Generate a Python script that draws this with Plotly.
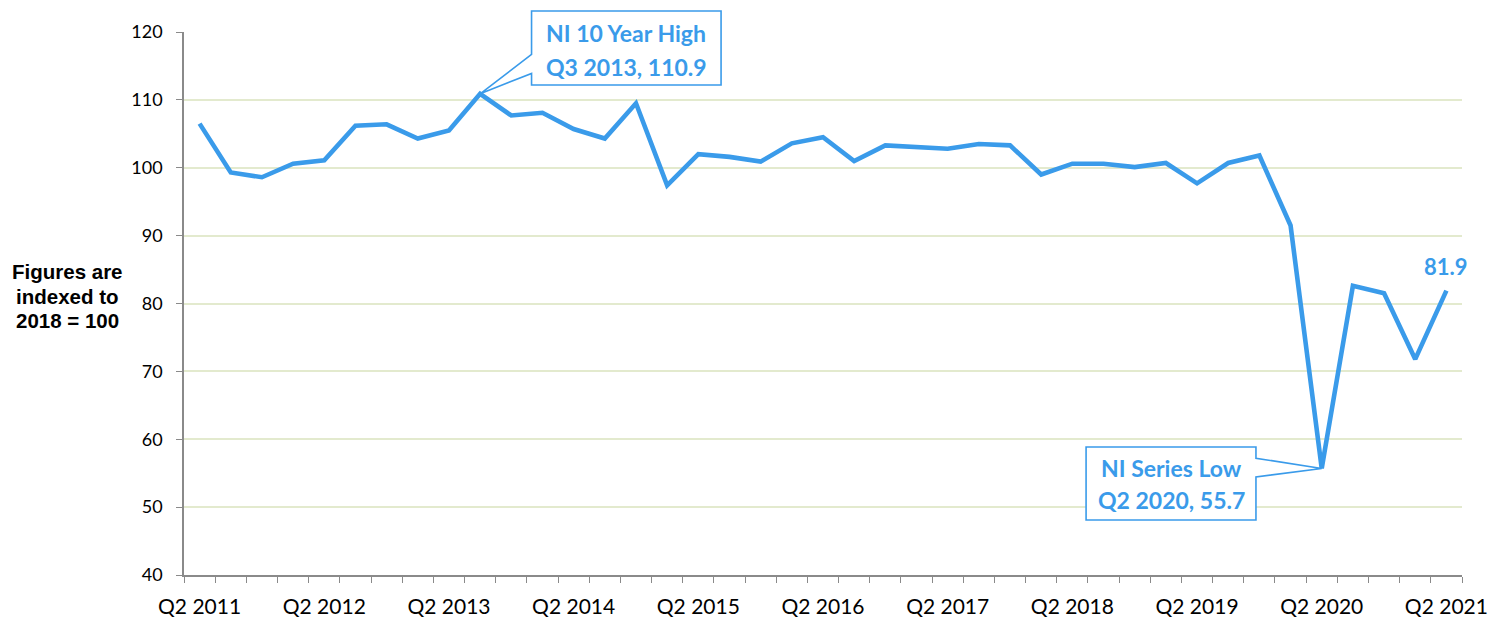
import plotly.graph_objects as go

# ---------------- data ----------------
quarters = [
    "Q2 2011", "Q3 2011", "Q4 2011", "Q1 2012",
    "Q2 2012", "Q3 2012", "Q4 2012", "Q1 2013",
    "Q2 2013", "Q3 2013", "Q4 2013", "Q1 2014",
    "Q2 2014", "Q3 2014", "Q4 2014", "Q1 2015",
    "Q2 2015", "Q3 2015", "Q4 2015", "Q1 2016",
    "Q2 2016", "Q3 2016", "Q4 2016", "Q1 2017",
    "Q2 2017", "Q3 2017", "Q4 2017", "Q1 2018",
    "Q2 2018", "Q3 2018", "Q4 2018", "Q1 2019",
    "Q2 2019", "Q3 2019", "Q4 2019", "Q1 2020",
    "Q2 2020", "Q3 2020", "Q4 2020", "Q1 2021",
    "Q2 2021",
]
index_values = [
    106.5, 99.3, 98.6, 100.6,
    101.1, 106.2, 106.4, 104.3,
    105.5, 110.9, 107.7, 108.1,
    105.7, 104.3, 109.5, 97.4,
    102.0, 101.6, 100.9, 103.6,
    104.5, 101.0, 103.3, 103.0,
    102.8, 103.5, 103.3, 99.0,
    100.6, 100.6, 100.1, 100.7,
    97.7, 100.7, 101.8, 91.5,
    55.7, 82.6, 81.5, 71.8,
    81.9,
]
y_ticks = [40, 50, 60, 70, 80, 90, 100, 110, 120]
y_title_lines = ["Figures are", "indexed to", "2018 = 100"]

# ---------------- styling ----------------
BLUE = "#3a9bea"
GRID = "#e3eace"
AXIS = "#8a8a8a"
X_RANGE = [-0.5, len(quarters) - 0.5]
Y_RANGE = [40, 120]

x_pos = list(range(len(quarters)))
label_idx = [i for i, q in enumerate(quarters) if q.startswith("Q2")]
boundaries = [i - 0.5 for i in range(len(quarters) + 1)]

fig = go.Figure()
fig.add_trace(go.Scatter(
    x=x_pos, y=index_values, mode="lines",
    line=dict(color=BLUE, width=4.6),
    hoverinfo="skip", showlegend=False,
))


def xd(x):
    return (x - X_RANGE[0]) / (X_RANGE[1] - X_RANGE[0])


def yd(y):
    return (y - Y_RANGE[0]) / (Y_RANGE[1] - Y_RANGE[0])


i_max = max(range(len(index_values)), key=lambda i: index_values[i])
i_min = min(range(len(index_values)), key=lambda i: index_values[i])

# callout boxes (layout positions in axis units)
hi_box = dict(x0=10.65, x1=16.73, y0=112.2, y1=123.1, wa=116.7, wb=113.9,
              tx=13.68, l1=119.8, l2=114.9)
lo_box = dict(x0=28.44, x1=33.89, y0=48.1, y1=58.85, wa=57.2, wb=54.45,
              tx=31.17, l1=55.75, l2=51.05)


def P(x, y):
    return f"{xd(x):.5f},{yd(y):.5f}"


hx, hy = i_max, index_values[i_max]
hi_path = ("M " + P(hi_box["x0"], hi_box["y1"]) + " L " + P(hi_box["x1"], hi_box["y1"]) +
           " L " + P(hi_box["x1"], hi_box["y0"]) + " L " + P(hi_box["x0"], hi_box["y0"]) +
           " L " + P(hi_box["x0"], hi_box["wb"]) + " L " + P(hx, hy) +
           " L " + P(hi_box["x0"], hi_box["wa"]) + " Z")
lx, ly = i_min, index_values[i_min]
lo_path = ("M " + P(lo_box["x0"], lo_box["y1"]) + " L " + P(lo_box["x1"], lo_box["y1"]) +
           " L " + P(lo_box["x1"], lo_box["wa"]) + " L " + P(lx, ly) +
           " L " + P(lo_box["x1"], lo_box["wb"]) + " L " + P(lo_box["x1"], lo_box["y0"]) +
           " L " + P(lo_box["x0"], lo_box["y0"]) + " Z")

for path in (hi_path, lo_path):
    fig.add_shape(type="path", path=path, xref="x domain", yref="y domain",
                  fillcolor="white", line=dict(color=BLUE, width=1.6), layer="above")

CALL_FONT = dict(family="Lato", size=23, color=BLUE)
for box, l1, l2 in (
    (hi_box, "NI 10 Year High", f"{quarters[i_max]}, {index_values[i_max]:.1f}"),
    (lo_box, "NI Series Low", f"{quarters[i_min]}, {index_values[i_min]:.1f}"),
):
    fig.add_annotation(x=box["tx"], y=box["l1"], xref="x", yref="y", text=f"<b>{l1}</b>",
                       showarrow=False, font=CALL_FONT, xanchor="center", yanchor="middle")
    fig.add_annotation(x=box["tx"], y=box["l2"], xref="x", yref="y", text=f"<b>{l2}</b>",
                       showarrow=False, font=CALL_FONT, xanchor="center", yanchor="middle")

# last value label
fig.add_annotation(x=x_pos[-1], y=index_values[-1], xref="x", yref="y",
                   text=f"<b>{index_values[-1]:.1f}</b>", showarrow=False,
                   font=dict(family="Lato", size=22, color=BLUE),
                   xanchor="center", yanchor="bottom", yshift=9)

# y-axis title (horizontal, left), one annotation per line
title_y = [84.65, 81.1, 77.55]
for txt, ty in zip(y_title_lines, title_y):
    fig.add_annotation(x=-0.0915, y=ty, xref="paper", yref="y",
                       text=f"<b>{txt}</b>", showarrow=False,
                       font=dict(family="Liberation Sans", size=20.5, color="black"),
                       xanchor="center", yanchor="middle")

fig.update_layout(
    width=1498, height=619,
    margin=dict(l=184, r=36, t=32, b=44),
    paper_bgcolor="white", plot_bgcolor="white",
    showlegend=False,
    xaxis=dict(
        range=X_RANGE, tickmode="array", tickvals=label_idx,
        ticktext=[quarters[i] for i in label_idx],
        ticks="", showgrid=False, zeroline=False, automargin=False,
        showline=True, linecolor=AXIS, linewidth=1.5,
        tickfont=dict(family="Lato", size=21, color="black"),
        ticklabelstandoff=12,
        minor=dict(tickmode="array", tickvals=boundaries, ticks="outside",
                   ticklen=6, tickcolor=AXIS, tickwidth=1.3, showgrid=False),
    ),
    yaxis=dict(
        range=Y_RANGE, tickmode="array", tickvals=y_ticks,
        ticks="outside", ticklen=6, tickcolor=AXIS, tickwidth=1.3,
        showgrid=True, gridcolor=GRID, gridwidth=1.6, zeroline=False, automargin=False,
        showline=True, linecolor=AXIS, linewidth=1.5,
        tickfont=dict(family="Lato", size=18, color="black"),
        ticklabelstandoff=10,
    ),
)

fig.write_html("out.html", config={"displayModeBar": False},
               post_script="document.body.style.margin='0';document.body.style.padding='0';")
